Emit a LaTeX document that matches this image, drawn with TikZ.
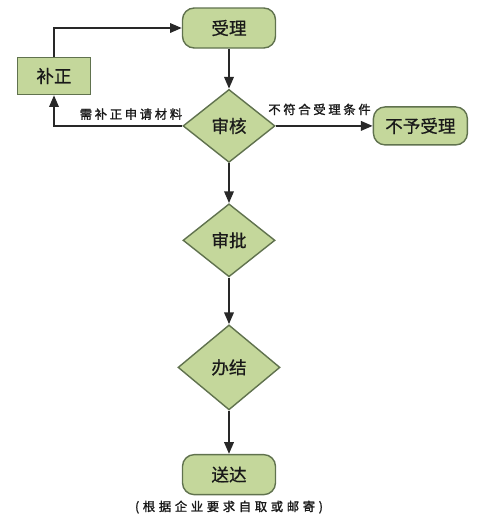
\documentclass[tikz,border=0pt]{standalone}
\usepackage{fontspec}
\setmainfont[FakeBold=1.5]{Noto Sans CJK SC}
\newfontfamily\cjknode[FakeBold=0.6]{Noto Sans CJK SC}
\newfontfamily\cjklabel[LetterSpace=22,FakeBold=1.6]{Noto Sans CJK SC}
\newfontfamily\cjkcaption[LetterSpace=30,FakeBold=1.6]{Noto Sans CJK SC}
\usetikzlibrary{arrows.meta,positioning,shapes.geometric}
\definecolor{boxgreen}{RGB}{196,215,155}
\definecolor{boxline}{RGB}{96,114,78}
\definecolor{arrowgray}{RGB}{40,40,40}
\definecolor{textgray}{RGB}{25,25,25}

\begin{document}
\begin{tikzpicture}[
  terminal/.style={rectangle, rounded corners=10pt,
    minimum width=2.79cm, minimum height=1.2cm,
    text centered, draw=boxline, fill=boxgreen, line width=1.2pt,
    text=textgray, font=\cjknode\fontsize{15}{17}\selectfont},
  process/.style={rectangle,
    minimum width=2.19cm, minimum height=1.11cm,
    text centered, draw=boxline, fill=boxgreen, line width=1.2pt,
    text=textgray, font=\cjknode\fontsize{15}{17}\selectfont},
  decision/.style={diamond, inner sep=0pt,
    minimum width=2.76cm, minimum height=2.19cm,
    text centered, draw=boxline, fill=boxgreen, line width=1.2pt,
    text=textgray, font=\cjknode\fontsize{15}{17}\selectfont},
  arrow/.style={-{Triangle[length=10pt,width=8pt]}, line width=1.8pt,
    color=arrowgray},
  note/.style={font=\cjklabel\fontsize{10.5}{12}\selectfont, text=textgray}
]
\useasboundingbox (0,0) rectangle (14.76,-15.72);

% Nodes
\node[terminal] (shouli) at (6.87,-0.84) {受理};
\node[decision, below=1.2cm of shouli] (shenhe) {审核};
\node[process] (buzheng) at (1.62,-2.28) {补正};
\node[terminal, minimum width=2.82cm, minimum height=1.14cm,
  right=2.91cm of shenhe] (buyu) {不予受理};
\node[decision, below=1.2cm of shenhe] (shenpi) {审批};
\node[decision, minimum width=3.06cm, minimum height=2.55cm,
  below=1.4cm of shenpi] (banjie) {办结};
\node[terminal, below=1.3cm of banjie] (songda) {送达};
\node[note, font=\cjkcaption\fontsize{10.5}{12}\selectfont,
  below=1pt of songda] (caption) {(根据企业要求自取或邮寄)};

% Arrows
\draw[arrow] (shouli) -- (shenhe);
\draw[arrow] (shenhe) -- node[note, above, yshift=5pt, xshift=-4pt]
  {不符合受理条件} (buyu);
\draw[arrow] (shenhe.west) -| node[note, pos=0.2, above, yshift=1pt]
  {需补正申请材料} (buzheng.south);
\draw[arrow] (buzheng.north) |- (shouli.west);
\draw[arrow] (shenhe) -- (shenpi);
\draw[arrow] (shenpi) -- (banjie);
\draw[arrow] (banjie) -- (songda);
\end{tikzpicture}
\end{document}
